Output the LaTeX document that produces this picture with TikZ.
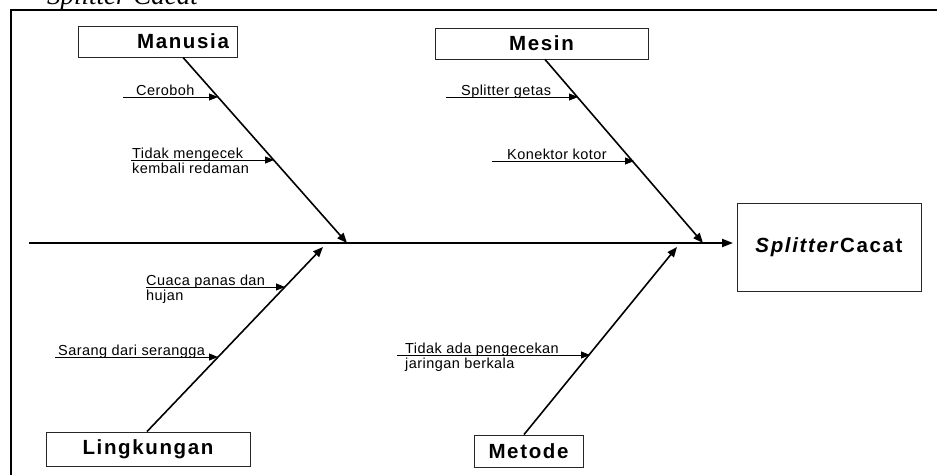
\documentclass[tikz,border=0pt]{standalone}
\usepackage{fontspec}
\setmainfont{Liberation Sans}
\newfontfamily\capfont{Liberation Serif}
\usetikzlibrary{arrows.meta,calc}
\begin{document}
\begin{tikzpicture}[x=1pt,y=-1pt,
  catbox/.style={draw=black!85, line width=0.9pt, inner sep=0pt,
    font=\fontsize{20.5}{22}\selectfont\bfseries\addfontfeature{LetterSpace=8}},
  effbox/.style={draw=black!85, line width=0.9pt, inner sep=0pt,
    font=\fontsize{20.5}{22}\selectfont\bfseries\addfontfeature{LetterSpace=8}},
  lbl/.style={anchor=base west, inner sep=0pt,
    font=\fontsize{14.5}{16}\selectfont\addfontfeature{LetterSpace=3}},
  bone/.style={line width=1.6pt, -{Triangle[length=10pt,width=8pt]}},
  sub/.style={line width=0.9pt, -{Triangle[length=9pt,width=7pt]}},
  spine/.style={line width=2pt, -{Triangle[length=11pt,width=8pt]}}
]
\useasboundingbox (0,0) rectangle (937,474);
\clip (0,0) rectangle (937,474);
\fill[white] (0,0) rectangle (937,474);

% caption (cut off at top) and frame
\node[anchor=base west, inner sep=0pt, font=\capfont\itshape\fontsize{27}{30}\selectfont] (cap) at (47,4) {Splitter Cacat};
\draw[line width=1.1pt] (11,500) -- (11,10) -- (960,10);

% category boxes
\node[catbox, minimum width=159pt, minimum height=31pt] (manusia) at (157.5,41.5) {\hspace*{51pt}Manusia};
\node[catbox, minimum width=213pt, minimum height=31pt] (mesin) at (541.5,43.5) {Mesin};
\node[catbox, minimum width=204pt, minimum height=34pt] (lingkungan) at (148,449) {Lingkungan};
\node[catbox, minimum width=109pt, minimum height=32pt] (metode) at (528.5,451) {Metode};
\node[effbox, minimum width=184pt, minimum height=88pt] (effect) at (829,247) {\textit{Splitter}Cacat};

% spine
\coordinate (tail) at (29,243);
\coordinate (head) at (733,243);
\draw[spine] (tail) -- (head);

% bones
\coordinate (mtip) at (347,243);
\coordinate (stip) at (703,243);
\coordinate (ltip) at (323,247);
\coordinate (dtip) at (677,247);
\draw[bone] ($(manusia.south)+(25.5,0)$) -- (mtip);
\draw[bone] ($(mesin.south)+(3.5,0)$) -- (stip);
\draw[bone] ($(lingkungan.north)+(-1,0)$) -- (ltip);
\draw[bone] ($(metode.north)+(-4.5,0)$) -- (dtip);

% sub causes: Manusia
\coordinate (a1) at (123,97);  \coordinate (b1) at (218,97);
\coordinate (a2) at (131,160); \coordinate (b2) at (274,160);
\draw[sub] (a1) -- (b1);
\draw[sub] (a2) -- (b2);
\node[lbl] (t1) at (136,95) {Ceroboh};
\node[lbl] (t2) at (132,158) {Tidak mengecek};
\node[lbl] (t2b) at (132,173.5) {kembali redaman};

% Mesin
\coordinate (a3) at (446,97);  \coordinate (b3) at (578,97);
\coordinate (a4) at (492,161); \coordinate (b4) at (634,161);
\draw[sub] (a3) -- (b3);
\draw[sub] (a4) -- (b4);
\node[lbl] (t3) at (461,95) {Splitter getas};
\node[lbl] (t4) at (507,159) {Konektor kotor};

% Lingkungan
\coordinate (a5) at (146,287); \coordinate (b5) at (285,287);
\coordinate (a6) at (55,357);  \coordinate (b6) at (218,357);
\draw[sub] (a5) -- (b5);
\draw[sub] (a6) -- (b6);
\node[lbl] (t5) at (146,285) {Cuaca panas dan};
\node[lbl] (t5b) at (146,300.5) {hujan};
\node[lbl] (t6) at (58,355) {Sarang dari serangga};

% Metode
\coordinate (a7) at (397,355); \coordinate (b7) at (590,355);
\draw[sub] (a7) -- (b7);
\node[lbl] (t7) at (405,353) {Tidak ada pengecekan};
\node[lbl] (t7b) at (405,368.5) {jaringan berkala};
\end{tikzpicture}
\end{document}
